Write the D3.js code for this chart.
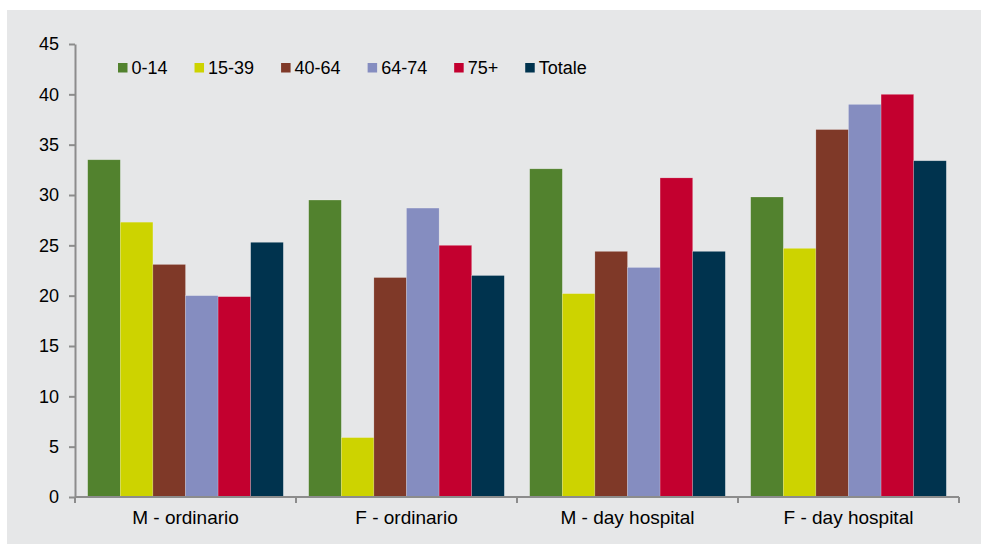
<!DOCTYPE html>
<html>
<head>
<meta charset="utf-8">
<script src="https://cdn.jsdelivr.net/npm/d3@7"></script>
<style>
  html, body { margin: 0; padding: 0; background: #ffffff; }
  svg { display: block; }
  text { font-family: "Liberation Sans", Arial, sans-serif; fill: #000000; }
</style>
</head>
<body>
<svg id="chart" width="981" height="544"></svg>
<script>
const categories = ["M - ordinario", "F - ordinario", "M - day hospital", "F - day hospital"];
const seriesNames = ["0-14", "15-39", "40-64", "64-74", "75+", "Totale"];
const s0_14   = [33.5, 29.5, 32.6, 29.8];
const s15_39  = [27.3, 5.9, 20.2, 24.7];
const s40_64  = [23.1, 21.8, 24.4, 36.5];
const s64_74  = [20.0, 28.7, 22.8, 39.0];
const s75p    = [19.9, 25.0, 31.7, 40.0];
const sTotale = [25.3, 22.0, 24.4, 33.4];
const yTicks  = [0, 5, 10, 15, 20, 25, 30, 35, 40, 45];
const colors  = ["#52822e", "#cdd300", "#7f3928", "#858dc0", "#c3002f", "#00334e"];

const seriesValues = [s0_14, s15_39, s40_64, s64_74, s75p, sTotale];

const svg = d3.select("#chart");
svg.append("rect").attr("x", 7).attr("y", 10).attr("width", 974).attr("height", 534).attr("fill", "#e6e7e8");

const mLeft = 75, mRight = 959, mTop = 44, mBottom = 497;

const x0 = d3.scaleBand().domain(categories).range([mLeft, mRight]).paddingInner(0.115).paddingOuter(0.0575);
const x1 = d3.scaleBand().domain(seriesNames).range([0, x0.bandwidth()]);
const y = d3.scaleLinear().domain([0, 45]).range([mBottom, mTop]);

// bars
const groups = svg.append("g").selectAll("g").data(categories).join("g")
  .attr("transform", d => `translate(${x0(d)},0)`);
groups.selectAll("rect")
  .data((c, ci) => seriesNames.map((s, si) => ({s, si, v: seriesValues[si][ci]})))
  .join("rect")
  .attr("x", d => x1(d.s))
  .attr("y", d => y(d.v))
  .attr("width", x1.bandwidth())
  .attr("height", d => y(0) - y(d.v))
  .attr("fill", d => colors[d.si])
  .attr("stroke", "rgba(255,255,255,0.3)")
  .attr("stroke-width", 0.6);

// y axis
const yAxis = svg.append("g").attr("transform", `translate(${mLeft},0)`)
  .call(d3.axisLeft(y).tickValues(yTicks).tickSize(6).tickSizeOuter(0).tickPadding(10));
yAxis.select(".domain").attr("stroke", "#8c8c8c").attr("stroke-width", 2);
yAxis.selectAll(".tick line").attr("stroke", "#8c8c8c").attr("stroke-width", 2);
yAxis.selectAll(".tick text").attr("font-size", 18).attr("fill", "#000000")
  .style("font-family", "'Liberation Sans', Arial, sans-serif");

// x axis
const xAxis = svg.append("g").attr("transform", `translate(0,${mBottom})`);
xAxis.append("line").attr("x1", mLeft).attr("x2", mRight).attr("y1", 0).attr("y2", 0)
  .attr("stroke", "#8c8c8c").attr("stroke-width", 2);
const boundaries = [mLeft].concat(categories.map(c => x0(c) + x0.bandwidth() + x0.step() * x0.paddingInner() / 2));
boundaries[boundaries.length - 1] = mRight;
xAxis.selectAll("line.tk").data(boundaries).join("line").attr("class", "tk")
  .attr("x1", d => d).attr("x2", d => d).attr("y1", 0).attr("y2", 6)
  .attr("stroke", "#8c8c8c").attr("stroke-width", 2);
xAxis.selectAll("text").data(categories).join("text")
  .attr("x", d => x0(d) + x0.bandwidth() / 2)
  .attr("y", 27)
  .attr("text-anchor", "middle")
  .attr("font-size", 19)
  .text(d => d);

// legend
const legend = svg.append("g").attr("transform", "translate(118,0)");
let lx = 0;
seriesNames.forEach((s, i) => {
  const g = legend.append("g").attr("transform", `translate(${lx},0)`);
  g.append("rect").attr("x", 0).attr("y", 63).attr("width", 9.5).attr("height", 9.5).attr("fill", colors[i]);
  const t = g.append("text").attr("x", 13.5).attr("y", 74).attr("font-size", 18).text(s);
  lx += 13.5 + t.node().getComputedTextLength() + 27;
});
</script>
</body>
</html>
